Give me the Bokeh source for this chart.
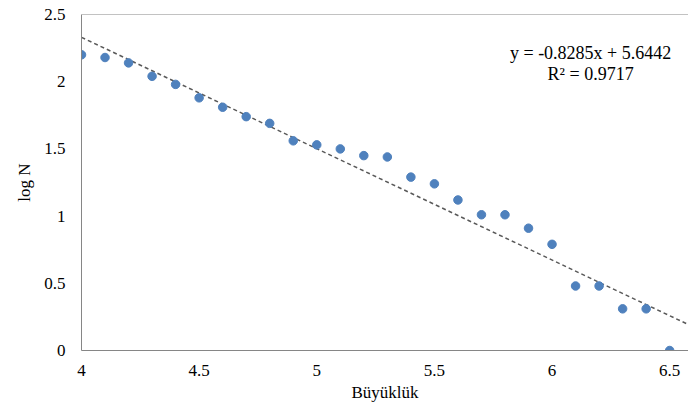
from bokeh.plotting import figure
from bokeh.models import ColumnDataSource, FixedTicker, Span, Label, Range1d
from bokeh.embed import file_html
from bokeh.resources import INLINE

magnitude = [4.0, 4.1, 4.2, 4.3, 4.4, 4.5, 4.6, 4.7, 4.8, 4.9, 5.0, 5.1, 5.2,
             5.3, 5.4, 5.5, 5.6, 5.7, 5.8, 5.9, 6.0, 6.1, 6.2, 6.3, 6.4, 6.5]
log_n = [2.20, 2.18, 2.14, 2.04, 1.98, 1.88, 1.81, 1.74, 1.69, 1.56, 1.53, 1.50, 1.45,
         1.44, 1.29, 1.24, 1.12, 1.01, 1.01, 0.91, 0.79, 0.48, 0.48, 0.31, 0.31, 0.0]
slope = -0.8285
intercept = 5.6442
r2 = 0.9717
x_ticks = [4, 4.5, 5, 5.5, 6, 6.5]
x_tick_labels = ["4", "4.5", "5", "5.5", "6", "6.5"]
y_ticks = [0, 0.5, 1, 1.5, 2, 2.5]
y_tick_labels = ["0", "0.5", "1", "1.5", "2", "2.5"]

X_MIN, X_MAX = 4.0, 6.58
Y_MIN, Y_MAX = 0.0, 2.5

FONT = "Liberation Serif"

p = figure(width=688, height=405, output_backend="svg", toolbar_location=None,
           x_range=Range1d(X_MIN, X_MAX), y_range=Range1d(Y_MIN, Y_MAX),
           min_border_left=81, min_border_right=0, min_border_top=14, min_border_bottom=55)
p.outline_line_color = None
p.xgrid.visible = False
p.ygrid.visible = False
p.background_fill_color = "white"
p.border_fill_color = "white"

for ax in (p.xaxis[0], p.yaxis[0]):
    ax.axis_line_color = "#868686"
    ax.axis_line_width = 1
    ax.major_tick_line_color = None
    ax.minor_tick_line_color = None
    ax.major_label_text_font = FONT
    ax.major_label_text_font_size = "17px"
    ax.major_label_text_color = "black"
    ax.axis_label_text_font = FONT
    ax.axis_label_text_font_size = "17px"
    ax.axis_label_text_font_style = "normal"
    ax.axis_label_text_color = "black"

p.xaxis.ticker = FixedTicker(ticks=x_ticks)
p.xaxis.major_label_overrides = dict(zip(x_ticks, x_tick_labels))
p.xaxis.major_label_standoff = 8
p.xaxis.axis_label = "Büyüklük"
p.xaxis.axis_label_standoff = 4

p.yaxis.ticker = FixedTicker(ticks=y_ticks)
p.yaxis.major_label_overrides = dict(zip(y_ticks, y_tick_labels))
p.yaxis.major_label_standoff = 10
p.yaxis.axis_label = "log N"
p.yaxis.axis_label_standoff = 7

top = Span(location=Y_MAX, dimension="width", line_color="#868686", line_width=1)
p.add_layout(top)

# trendline
tx = [X_MIN, X_MAX]
ty = [slope * v + intercept for v in tx]
p.line(tx, ty, line_color="#595959", line_width=1.5, line_dash="4 3")

src = ColumnDataSource(dict(x=magnitude, y=log_n))
p.scatter("x", "y", source=src, size=8.5, fill_color="#4F81BD", line_color="#4F81BD")

eq1 = Label(x=6.164, y=2.21, text=f"y = {slope}x + {intercept}", text_font=FONT,
            text_font_size="18px", text_align="center", text_baseline="middle",
            text_color="black")
eq2 = Label(x=6.164, y=2.06, text=f"R² = {r2}", text_font=FONT,
            text_font_size="18px", text_align="center", text_baseline="middle",
            text_color="black")
p.add_layout(eq1)
p.add_layout(eq2)

open("out.html", "w").write(file_html(p, INLINE))
